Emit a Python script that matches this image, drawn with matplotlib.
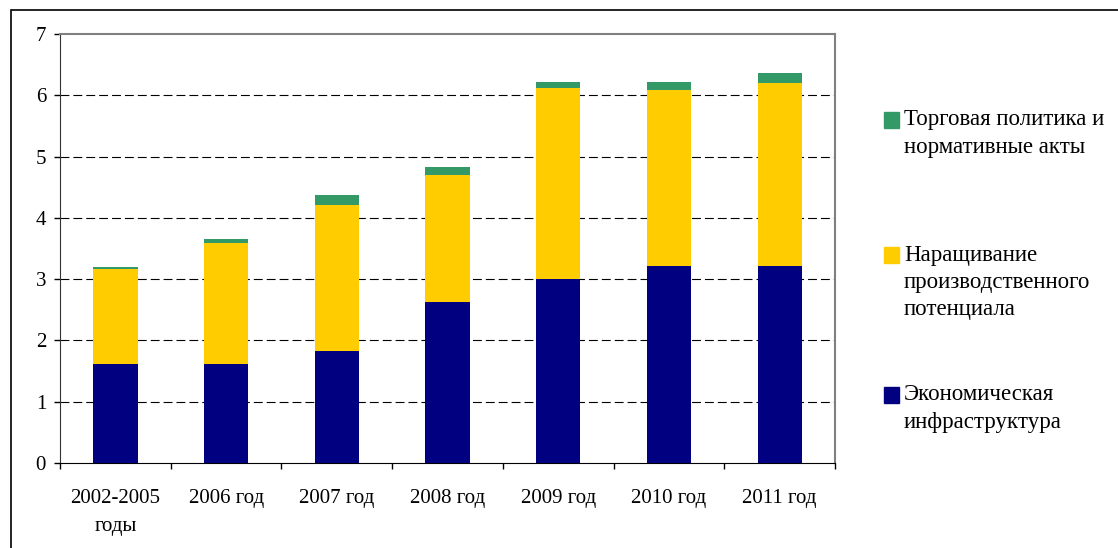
"""Stacked bar chart: structure of aid for trade by year."""

import matplotlib
matplotlib.use('Agg')
import matplotlib.pyplot as plt
from matplotlib.patches import Rectangle

plt.rcParams['font.family'] = ['Liberation Serif', 'DejaVu Serif']

categories = ['2002-2005\nгоды', '2006 год', '2007 год', '2008 год',
              '2009 год', '2010 год', '2011 год']
infra = [1.61, 1.61, 1.83, 2.63, 3.0, 3.21, 3.21]
capacity = [1.55, 1.98, 2.38, 2.07, 3.12, 2.88, 2.99]
trade = [0.04, 0.06, 0.16, 0.13, 0.10, 0.13, 0.16]

series_labels = ['Экономическая\nинфраструктура',
                 'Наращивание\nпроизводственного\nпотенциала',
                 'Торговая политика и\nнормативные акты']
series_colors = ['#000080', '#FFCC00', '#339966']
yticks = [0, 1, 2, 3, 4, 5, 6, 7]

W, H = 1118, 548
fig = plt.figure(figsize=(W / 100, H / 100), dpi=100)
ax = fig.add_axes([60 / W, 1 - 463 / H, (835 - 60) / W, (463 - 34) / H])

x = list(range(len(categories)))
bottom = [0.0] * len(x)
for vals, col in zip([infra, capacity, trade], series_colors):
    ax.bar(x, vals, width=0.4, bottom=bottom, color=col, zorder=3)
    bottom = [b + v for b, v in zip(bottom, vals)]

ax.set_xlim(-0.5, len(x) - 0.5)
ax.set_ylim(0, 7)
ax.set_yticks(yticks)
ax.set_xticks(x)
ax.set_xticklabels(categories, linespacing=1.6)
ax.set_xticks([i - 0.5 for i in range(len(x) + 1)], minor=True)
ax.tick_params(axis='x', which='major', length=0, pad=19, labelsize=15)
ax.tick_params(axis='x', which='minor', length=4, width=1, direction='out')
ax.tick_params(axis='y', length=4, width=1, direction='out', pad=6, labelsize=15)

for y in yticks[1:-1]:
    ax.axhline(y, color='black', lw=0.8, linestyle=(0, (8, 3.6)), zorder=1)

ax.spines['top'].set_color('#808080')
ax.spines['right'].set_color('#808080')
ax.spines['top'].set_linewidth(1.5)
ax.spines['right'].set_linewidth(1.5)
ax.spines['left'].set_color('#333333')
ax.spines['bottom'].set_color('black')

# legend drawn by hand (top entry first)
first_lines = [395, 255, 120]
for lab, col, yc in zip(series_labels, series_colors, first_lines):
    fig.patches.append(Rectangle((884 / W, 1 - (yc + 8) / H), 15 / W, 16 / H,
                                 transform=fig.transFigure, color=col))
    for i, line in enumerate(lab.split('\n')):
        fig.text(904 / W, 1 - (yc + i * 27.5) / H, line, fontsize=16.5,
                 va='center', ha='left')

# outer frame
fig.patches.append(Rectangle((11 / W, -0.05), 1.1, 1.05 - 10 / H,
                             transform=fig.transFigure, fill=False,
                             edgecolor='black', lw=1.2))

fig.savefig('out.png', dpi=100)
